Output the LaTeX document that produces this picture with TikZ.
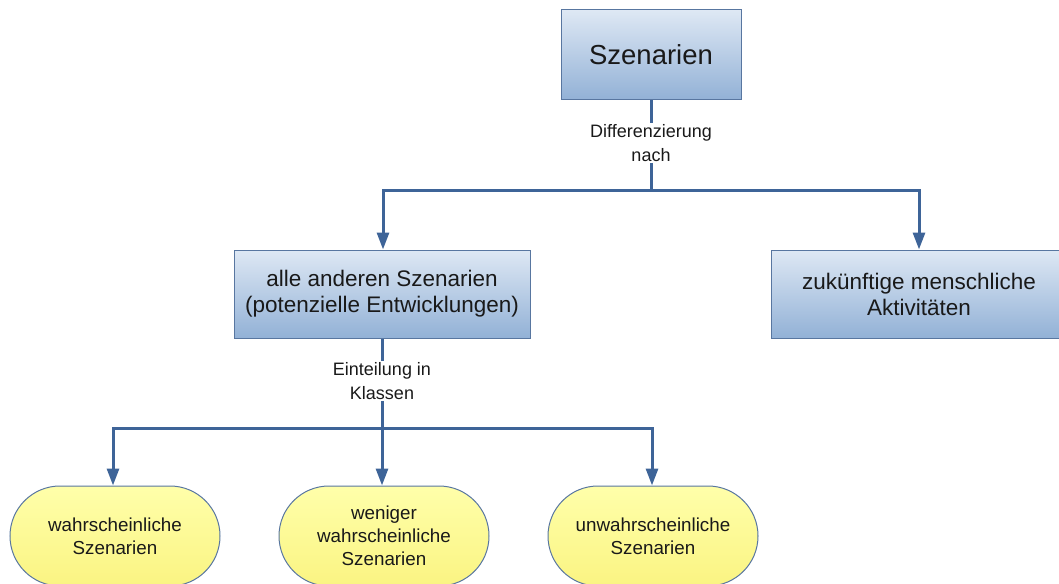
\documentclass[tikz,border=0pt]{standalone}
\usepackage{fontspec}
\setmainfont{Liberation Sans}
\usetikzlibrary{arrows.meta,positioning}
\definecolor{linec}{RGB}{62,100,152}
\definecolor{boxtop}{RGB}{222,232,244}
\definecolor{boxbot}{RGB}{146,177,214}
\definecolor{boxborder}{RGB}{88,118,160}
\definecolor{elltop}{RGB}{255,255,170}
\definecolor{ellbot}{RGB}{250,244,130}
\definecolor{txt}{RGB}{25,25,25}
\tikzset{
  bluebox/.style={draw=boxborder, line width=1pt, top color=boxtop, bottom color=boxbot,
    align=center, text=txt, inner sep=0pt},
  yellowell/.style={draw=boxborder, line width=1pt, top color=elltop, bottom color=ellbot,
    rounded corners=50pt, minimum width=210pt, minimum height=100pt, align=center,
    text=txt, inner sep=0pt, font=\fontsize{18.8}{23}\selectfont},
  conn/.style={draw=linec, line width=3pt},
  arr/.style={conn, -{Triangle[length=17pt,width=12pt]}},
  lab/.style={align=center, text=txt, inner sep=1pt, font=\fontsize{18}{24}\selectfont}
}
\begin{document}
\begin{tikzpicture}[x=1pt,y=-1pt]
\useasboundingbox (0,0) rectangle (1059,583);
\clip (0,0) rectangle (1059,583);
% boxes
\node[bluebox, minimum width=180pt, minimum height=90pt, font=\fontsize{27.5}{32}\selectfont] (sz) at (651,55) {Szenarien};
\node[bluebox, minimum width=296pt, minimum height=88pt, font=\fontsize{22.5}{26}\selectfont] (left) at (382,294) {alle anderen Szenarien\\(potenzielle Entwicklungen)};
\node[bluebox, minimum width=296pt, minimum height=88pt, font=\fontsize{22.5}{26}\selectfont] (right) at (919,294) {zukünftige menschliche\\Aktivitäten};
% ellipses
\node[yellowell] (e1) at (115,536) {wahrscheinliche\\Szenarien};
\node[yellowell] (e2) at (384,536) {weniger\\wahrscheinliche\\Szenarien};
\node[yellowell] (e3) at (653,536) {unwahrscheinliche\\Szenarien};
% labels
\node[lab] (lab1) at (651,143) {Differenzierung\\nach};
\node[lab] (lab2) at (382,381) {Einteilung in\\Klassen};
% junctions
\coordinate (j1) at (651,190);
\coordinate (j2) at (382,428);
% connectors
\draw[conn] (sz.south) -- (lab1.north);
\draw[conn] (lab1.south) -- (j1);
\draw[arr] (j1) -| ([xshift=1pt]left.north);
\draw[arr] (j1) -| (right.north);
\draw[conn] (left.south) -- (lab2.north);
\draw[conn] (lab2.south) -- (j2);
\draw[arr] (j2) -| ([xshift=-2pt]e1.north);
\draw[arr] (j2) -- ([xshift=-2pt]e2.north);
\draw[arr] (j2) -| ([xshift=-1pt]e3.north);
\end{tikzpicture}
\end{document}
